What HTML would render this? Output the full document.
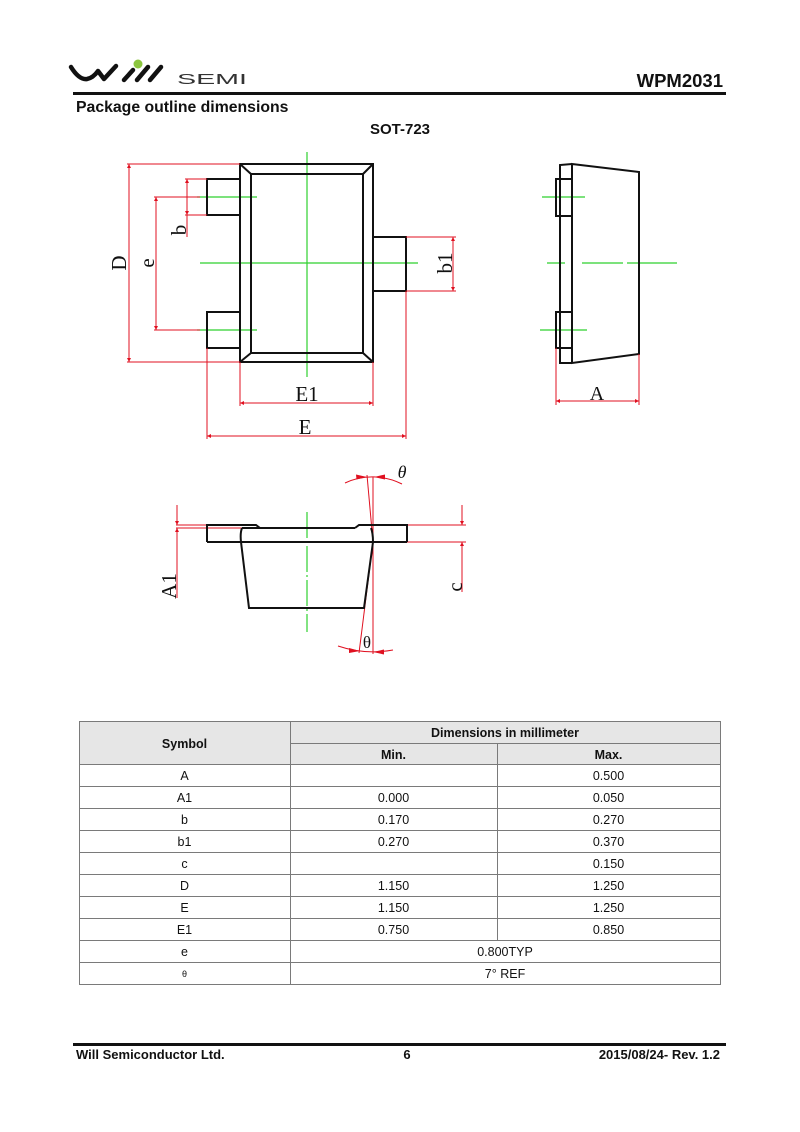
<!DOCTYPE html>
<html><head><meta charset="utf-8"><style>
html,body{margin:0;padding:0;background:#fff;}
svg{display:block;}
</style></head><body>
<svg width="800" height="1132" viewBox="0 0 800 1132" xmlns="http://www.w3.org/2000/svg">
<defs>
<marker id="ar" viewBox="0 0 10 10" refX="10" refY="5" markerWidth="8" markerHeight="4" markerUnits="userSpaceOnUse" orient="auto-start-reverse"><path d="M0,0 L10,5 L0,10 z" fill="#e01020"/></marker>
</defs>
<rect width="800" height="1132" fill="#fff"/>

<!-- Header logo -->
<g fill="none" stroke="#111" stroke-width="4.5" stroke-linecap="round" stroke-linejoin="round">
<path d="M71,67 Q79,80 87,79 Q93,78 98,71 L104,79 L116,66"/>
<path d="M124,80 L133,70"/>
<path d="M137,80 L148,67"/>
<path d="M150,80 L161,67"/>
</g>
<circle cx="138" cy="64" r="4.5" fill="#8cc63f"/>
<text x="177" y="84" font-family="Liberation Sans, sans-serif" font-size="15" fill="#333" textLength="70" lengthAdjust="spacingAndGlyphs">SEMI</text>
<text x="723" y="87" text-anchor="end" font-family="Liberation Sans, sans-serif" font-weight="bold" font-size="18.5" fill="#111">WPM2031</text>
<rect x="73" y="92" width="653" height="3" fill="#111"/>
<text x="76" y="112" font-family="Liberation Sans, sans-serif" font-weight="bold" font-size="15.8" fill="#111">Package outline dimensions</text>
<text x="400" y="134" text-anchor="middle" font-family="Liberation Sans, sans-serif" font-weight="bold" font-size="15" fill="#111">SOT-723</text>

<!-- TOP VIEW -->
<g stroke="#2fd02f" stroke-width="1.2" fill="none">
<line x1="307" y1="152" x2="307" y2="377"/>
<line x1="200" y1="263" x2="418" y2="263"/>
<line x1="197" y1="197" x2="257" y2="197"/>
<line x1="197" y1="330" x2="257" y2="330"/>
</g>
<g stroke="#111" stroke-width="2" fill="none">
<rect x="240" y="164" width="133" height="198"/>
<rect x="251" y="174" width="112" height="179"/>
<line x1="240" y1="164" x2="251" y2="174"/>
<line x1="373" y1="164" x2="363" y2="174"/>
<line x1="240" y1="362" x2="251" y2="353"/>
<line x1="373" y1="362" x2="363" y2="353"/>
<path d="M240,179 L207,179 L207,215 L240,215"/>
<path d="M240,312 L207,312 L207,348 L240,348"/>
<path d="M373,237 L406,237 L406,291 L373,291"/>
</g>
<g stroke="#e01020" stroke-width="1" fill="none">
<!-- D -->
<line x1="127" y1="164" x2="240" y2="164"/>
<line x1="127" y1="362" x2="240" y2="362"/>
<line x1="129" y1="164" x2="129" y2="362" marker-start="url(#ar)" marker-end="url(#ar)"/>
<!-- b -->
<line x1="185" y1="179" x2="207" y2="179"/>
<line x1="185" y1="215" x2="207" y2="215"/>
<line x1="187" y1="179" x2="187" y2="215" marker-start="url(#ar)" marker-end="url(#ar)"/>
<line x1="187" y1="215" x2="187" y2="237"/>
<!-- e -->
<line x1="154" y1="197" x2="200" y2="197"/>
<line x1="154" y1="330" x2="200" y2="330"/>
<line x1="156" y1="197" x2="156" y2="330" marker-start="url(#ar)" marker-end="url(#ar)"/>
<!-- E1 -->
<line x1="240" y1="362" x2="240" y2="406"/>
<line x1="373" y1="362" x2="373" y2="406"/>
<line x1="240" y1="403" x2="373" y2="403" marker-start="url(#ar)" marker-end="url(#ar)"/>
<!-- E -->
<line x1="207" y1="348" x2="207" y2="439"/>
<line x1="406" y1="291" x2="406" y2="439"/>
<line x1="207" y1="436" x2="406" y2="436" marker-start="url(#ar)" marker-end="url(#ar)"/>
<!-- b1 -->
<line x1="406" y1="237" x2="456" y2="237"/>
<line x1="406" y1="291" x2="456" y2="291"/>
<line x1="453" y1="237" x2="453" y2="291" marker-start="url(#ar)" marker-end="url(#ar)"/>
</g>
<g font-family="Liberation Serif, serif" fill="#111" text-anchor="middle">
<text transform="translate(126 263) rotate(-90)" font-size="21">D</text>
<text transform="translate(154 263) rotate(-90)" font-size="21">e</text>
<text transform="translate(186 230) rotate(-90)" font-size="21">b</text>
<text transform="translate(452 263) rotate(-90)" font-size="21">b1</text>
<text x="307" y="401" font-size="21">E1</text>
<text x="305" y="434" font-size="21">E</text>
<text x="597" y="400" font-size="20">A</text>
</g>

<!-- SIDE VIEW -->
<g stroke="#2fd02f" stroke-width="1.2" fill="none">
<line x1="542" y1="197" x2="585" y2="197"/>
<line x1="540" y1="330" x2="587" y2="330"/>
<line x1="547" y1="263" x2="565" y2="263"/>
<line x1="582" y1="263" x2="623" y2="263"/>
<line x1="627" y1="263" x2="677" y2="263"/>
</g>
<g stroke="#111" stroke-width="2" fill="none">
<path d="M572,164 L639,172 L639,354 L572,363 Z"/>
<path d="M572,164 L560,165 L560,363 L572,363"/>
<rect x="556" y="179" width="16" height="37"/>
<rect x="556" y="312" width="16" height="36"/>
</g>
<g stroke="#e01020" stroke-width="1" fill="none">
<line x1="556" y1="348" x2="556" y2="405"/>
<line x1="639" y1="354" x2="639" y2="405"/>
<line x1="556" y1="401" x2="639" y2="401" marker-start="url(#ar)" marker-end="url(#ar)"/>
</g>

<!-- BOTTOM (FRONT) VIEW -->
<line x1="307" y1="512" x2="307" y2="632" stroke="#2fd02f" stroke-width="1.2" stroke-dasharray="26,3,2,3"/>
<g stroke="#e01020" stroke-width="1" fill="none">
<line x1="176" y1="525" x2="207" y2="525"/>
<line x1="176" y1="528" x2="243" y2="528"/>
<line x1="177" y1="505" x2="177" y2="525" marker-end="url(#ar)"/>
<line x1="177" y1="598" x2="177" y2="528" marker-end="url(#ar)"/>
<line x1="407" y1="525" x2="466" y2="525"/>
<line x1="407" y1="542" x2="466" y2="542"/>
<line x1="462" y1="505" x2="462" y2="525" marker-end="url(#ar)"/>
<line x1="462" y1="592" x2="462" y2="542" marker-end="url(#ar)"/>
<!-- theta -->
<line x1="373" y1="477" x2="373" y2="654"/>
<line x1="367" y1="475" x2="373" y2="542"/>
<line x1="373" y1="542" x2="359" y2="653"/>
<path d="M345,483 A65,65 0 0 1 402,484"/>
<path d="M338,646 A110,110 0 0 0 393,650"/>
</g>
<g fill="#e01020">
<path d="M367,477 L356,474.5 L356.5,479.5 Z"/>
<path d="M374,477 L385,474.5 L385,479.5 Z"/>
<path d="M360,651 L349,648 L349,653 Z"/>
<path d="M373,652 L384,649.5 L384,654.5 Z"/>
</g>
<g stroke="#111" stroke-width="2" fill="none">
<path d="M207,542 L207,525 L256,525 L260,528"/>
<line x1="242" y1="528" x2="355" y2="528"/>
<path d="M355,528 L359,525 L407,525 L407,542"/>
<line x1="207" y1="542" x2="407" y2="542"/>
<path d="M242,528 Q240,533 241,542 L249,608 L364,608 L373,542 Q373,533 371,528"/>
</g>
<g font-family="Liberation Serif, serif" fill="#111" text-anchor="middle">
<text transform="translate(176 586) rotate(-90)" font-size="21">A1</text>
<text transform="translate(462 587) rotate(-90)" font-size="21">c</text>
<text x="402" y="478" font-size="18" font-style="italic">θ</text>
<text x="367" y="648" font-size="17">θ</text>
</g>

<!-- TABLE -->
<rect x="79" y="721" width="641" height="43" fill="#e6e6e6"/>
<g stroke="#7a7a7a" stroke-width="1" fill="none">
<rect x="79.5" y="721.5" width="641" height="263"/>
<line x1="290.5" y1="721" x2="290.5" y2="985"/>
<line x1="290" y1="743.5" x2="720" y2="743.5"/>
<line x1="497.5" y1="743" x2="497.5" y2="940"/>
<line x1="79" y1="764.5" x2="720" y2="764.5"/>
<line x1="79" y1="786.5" x2="720" y2="786.5"/>
<line x1="79" y1="808.5" x2="720" y2="808.5"/>
<line x1="79" y1="830.5" x2="720" y2="830.5"/>
<line x1="79" y1="852.5" x2="720" y2="852.5"/>
<line x1="79" y1="874.5" x2="720" y2="874.5"/>
<line x1="79" y1="896.5" x2="720" y2="896.5"/>
<line x1="79" y1="918.5" x2="720" y2="918.5"/>
<line x1="79" y1="940.5" x2="720" y2="940.5"/>
<line x1="79" y1="962.5" x2="720" y2="962.5"/>
</g>
<g font-family="Liberation Sans, sans-serif" font-size="12.5" fill="#111" text-anchor="middle">
<text x="184.5" y="748" font-weight="bold">Symbol</text>
<text x="505" y="737" font-weight="bold">Dimensions in millimeter</text>
<text x="393.5" y="759" font-weight="bold">Min.</text>
<text x="608.5" y="759" font-weight="bold">Max.</text>

<text x="184.5" y="780">A</text><text x="608.5" y="780">0.500</text>
<text x="184.5" y="802">A1</text><text x="393.5" y="802">0.000</text><text x="608.5" y="802">0.050</text>
<text x="184.5" y="824">b</text><text x="393.5" y="824">0.170</text><text x="608.5" y="824">0.270</text>
<text x="184.5" y="846">b1</text><text x="393.5" y="846">0.270</text><text x="608.5" y="846">0.370</text>
<text x="184.5" y="868">c</text><text x="608.5" y="868">0.150</text>
<text x="184.5" y="890">D</text><text x="393.5" y="890">1.150</text><text x="608.5" y="890">1.250</text>
<text x="184.5" y="912">E</text><text x="393.5" y="912">1.150</text><text x="608.5" y="912">1.250</text>
<text x="184.5" y="934">E1</text><text x="393.5" y="934">0.750</text><text x="608.5" y="934">0.850</text>
<text x="184.5" y="956">e</text><text x="505" y="956">0.800TYP</text>
<text x="184.5" y="977" font-size="9">θ</text><text x="505" y="978">7°  REF</text>
</g>

<!-- FOOTER -->
<rect x="73" y="1043" width="653" height="3" fill="#111"/>
<g font-family="Liberation Sans, sans-serif" font-weight="bold" font-size="13" fill="#111">
<text x="76" y="1059">Will Semiconductor Ltd.</text>
<text x="407" y="1059" text-anchor="middle">6</text>
<text x="720" y="1059" text-anchor="end">2015/08/24- Rev. 1.2</text>
</g>
</svg>
</body></html>
